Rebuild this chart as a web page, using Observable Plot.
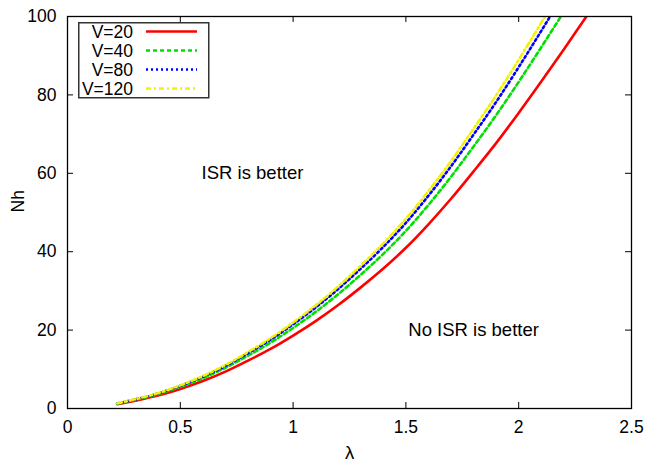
<!DOCTYPE html>
<html>
<head>
<meta charset="utf-8">
<script src="https://cdn.jsdelivr.net/npm/d3@7"></script>
<script src="https://cdn.jsdelivr.net/npm/@observablehq/plot@0.6"></script>
<style>
  html, body { margin: 0; padding: 0; background: #fff; }
  #wrap { position: relative; width: 659px; height: 466px; }
  #legend { position: absolute; left: 78px; top: 22px; }
</style>
</head>
<body>
<div id="wrap"></div>
<script>
// ---- data ----
const lambda = [0.22, 0.3, 0.4, 0.5, 0.6, 0.7, 0.8, 0.9, 1.0, 1.1, 1.2, 1.3, 1.4, 1.5, 1.6, 1.7, 1.8, 1.9, 2.0, 2.1, 2.2, 2.3, 2.35];
const nhV20  = [1.1, 2.0, 3.3, 5.0, 7.0, 9.4, 12.2, 15.2, 18.6, 22.3, 26.4, 30.9, 35.7, 41.0, 47.0, 53.5, 60.5, 67.7, 75.4, 83.4, 91.6, 100.0, 104.3];
const nhV40  = [1.22, 2.21, 3.65, 5.53, 7.74, 10.39, 13.48, 16.80, 20.55, 24.64, 29.17, 34.14, 39.45, 45.31, 51.94, 59.12, 66.85, 74.81, 83.32, 92.16, 101.2, 110.5, 115.3];
const nhV80  = [1.27, 2.31, 3.81, 5.78, 8.09, 10.86, 14.09, 17.56, 21.48, 25.76, 30.49, 35.69, 41.23, 47.36, 54.29, 61.79, 69.88, 78.19, 87.09, 96.33, 105.8, 115.5, 120.5];
const nhV120 = [1.30, 2.36, 3.89, 5.90, 8.26, 11.09, 14.40, 17.94, 21.95, 26.31, 31.15, 36.46, 42.13, 48.38, 55.46, 63.13, 71.39, 79.89, 88.97, 98.41, 108.1, 118.0, 123.1];
const seriesNames = ["V=20", "V=40", "V=80", "V=120"];
const xTicks = [0, 0.5, 1, 1.5, 2, 2.5];
const yTicks = [0, 20, 40, 60, 80, 100];
const annotations = [
  {x: 0.82, y: 60, label: "ISR is better"},
  {x: 1.80, y: 20, label: "No ISR is better"}
];

// ---- styles ----
const styles = [
  {stroke: "#ff0000", dash: null, width: 2.6},
  {stroke: "#00e000", dash: "4,3", width: 2.6},
  {stroke: "#0000ff", dash: "2,3", width: 2.6},
  {stroke: "#f2f200", dash: "5,3,2,3", width: 2.6}
];
const values = [nhV20, nhV40, nhV80, nhV120];
const data = values.map((vals, i) => lambda.map((l, j) => ({lambda: l, nh: vals[j], series: seriesNames[i]})));

const W = 659, H = 466, mT = 16, mR = 28, mB = 58, mL = 67;
const fw = W - mL - mR, fh = H - mT - mB, tl = 6;
const font = "'Liberation Sans', Arial, Helvetica, sans-serif";

const chart = Plot.plot({
  width: W, height: H,
  marginTop: mT, marginRight: mR, marginBottom: mB, marginLeft: mL,
  style: {fontFamily: font, fontSize: "17.5px", color: "#000", background: "#fff"},
  x: {domain: [0, 2.5]},
  y: {domain: [0, 100]},
  marks: [
    ...data.map((d, i) => Plot.line(d, {
      x: "lambda", y: "nh", stroke: styles[i].stroke, strokeWidth: styles[i].width,
      strokeDasharray: styles[i].dash, curve: "catmull-rom", clip: true
    })),
    Plot.tickX(xTicks, {x: d => d, insetTop: fh - tl, stroke: "#000", strokeWidth: 1}),
    Plot.tickX(xTicks, {x: d => d, insetBottom: fh - tl, stroke: "#000", strokeWidth: 1}),
    Plot.tickY(yTicks, {y: d => d, insetRight: fw - tl, stroke: "#000", strokeWidth: 1}),
    Plot.tickY(yTicks, {y: d => d, insetLeft: fw - tl, stroke: "#000", strokeWidth: 1}),
    Plot.frame({stroke: "#000", strokeWidth: 1.3}),
    Plot.axisX({ticks: xTicks, tickSize: 0, tickPadding: 12, label: null, tickFormat: d => String(d)}),
    Plot.axisY({ticks: yTicks, tickSize: 0, tickPadding: 11, label: null, tickFormat: d => String(d)}),
    Plot.text(["λ"], {frameAnchor: "bottom", dy: 50, fontSize: 18.5}),
    Plot.text(["Nh"], {frameAnchor: "left", dx: -49, rotate: -90, fontSize: 17.5}),
    Plot.text(annotations, {x: "x", y: "y", text: "label", fontSize: 18.5})
  ]
});
document.getElementById("wrap").appendChild(chart);

// ---- legend (inside plot, top-left) ----
const lg = d3.select("#wrap").append("svg").attr("id", "legend")
  .attr("width", 132).attr("height", 77)
  .style("font-family", font).style("font-size", "17.5px");
lg.append("rect").attr("x", 0.75).attr("y", 0.75).attr("width", 130).attr("height", 75)
  .attr("fill", "#fff").attr("stroke", "#333").attr("stroke-width", 1.5);
seriesNames.forEach((name, i) => {
  const cy = 9.5 + i * 19;
  lg.append("text").attr("x", 55).attr("y", cy).attr("dy", "0.35em")
    .attr("text-anchor", "end").text(name);
  lg.append("line").attr("x1", 68).attr("x2", 119).attr("y1", cy).attr("y2", cy)
    .attr("stroke", styles[i].stroke).attr("stroke-width", styles[i].width)
    .attr("stroke-dasharray", styles[i].dash);
});
</script>
</body>
</html>
